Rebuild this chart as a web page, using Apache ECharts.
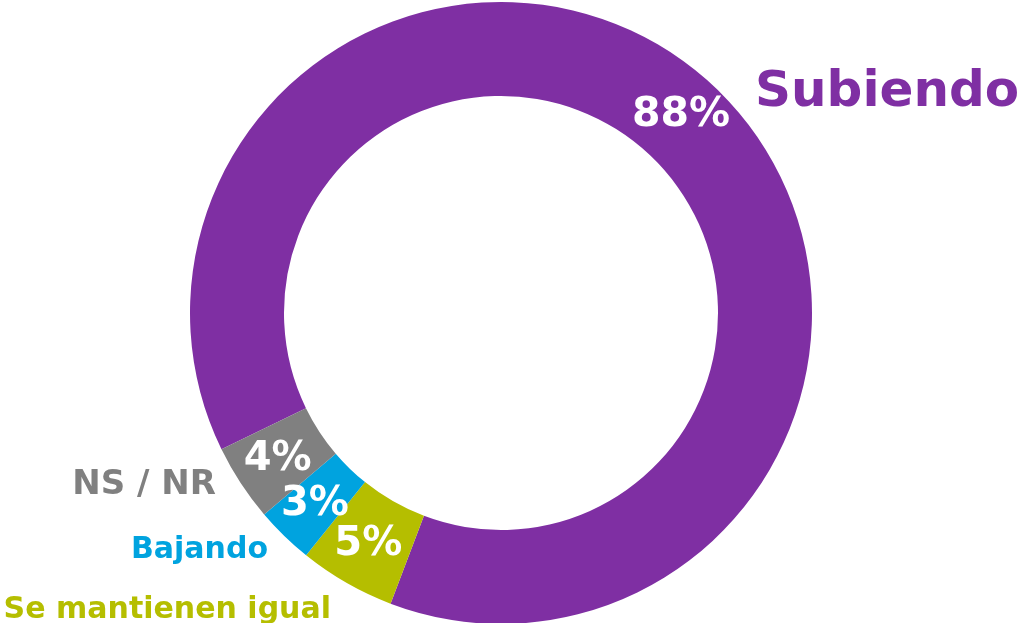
<!DOCTYPE html>
<html>
<head>
<meta charset="utf-8">
<script src="https://cdn.jsdelivr.net/npm/echarts@6/dist/echarts.min.js"></script>
<style>
  html, body { margin: 0; padding: 0; background: #fff; }
  #chart { width: 1017px; height: 623px; }
</style>
</head>
<body>
<div id="chart"></div>
<script>
const categories = ['Subiendo', 'Se mantienen igual', 'Bajando', 'NS / NR'];
const values = [88, 5, 3, 4];
const colors = ['#7f2fa3', '#b5be00', '#00a3df', '#808080'];

// name label placement (outside the ring)
const nameSizes = [50, 30, 30, 34];
const namePos = [
  { x: 755, y: 93, align: 'left' },
  { x: 331, y: 610, align: 'right' },
  { x: 268, y: 550, align: 'right' },
  { x: 216, y: 485, align: 'right' }
];
const pctSizes = [41, 40, 40, 40];

const FONT = '"DejaVu Sans", sans-serif';

const chart = echarts.init(document.getElementById('chart'));

const pieBase = {
  type: 'pie',
  center: [501, 313],
  radius: [217, 311],
  startAngle: 206,
  clockwise: true,
  silent: true,
  animation: false,
  avoidLabelOverlap: false
};

chart.setOption({
  series: [
    {
      ...pieBase,
      itemStyle: { borderWidth: 0 },
      label: {
        show: true,
        position: 'inside',
        formatter: '{c}%',
        color: '#fff',
        fontFamily: FONT,
        fontWeight: 'bold'
      },
      labelLine: { show: false },
      data: categories.map((name, i) => ({
        name,
        value: values[i],
        itemStyle: { color: colors[i] },
        label: { fontSize: pctSizes[i] }
      }))
    },
    {
      ...pieBase,
      z: 3,
      itemStyle: { color: 'rgba(0,0,0,0)' },
      label: {
        show: true,
        position: 'outside',
        formatter: '{b}',
        fontFamily: FONT,
        fontWeight: 'bold'
      },
      labelLine: { show: false },
      labelLayout: function (params) {
        const p = namePos[params.dataIndex];
        return { x: p.x, y: p.y, align: p.align, verticalAlign: 'middle' };
      },
      data: categories.map((name, i) => ({
        name,
        value: values[i],
        label: { color: colors[i], fontSize: nameSizes[i] }
      }))
    }
  ]
});
</script>
</body>
</html>
